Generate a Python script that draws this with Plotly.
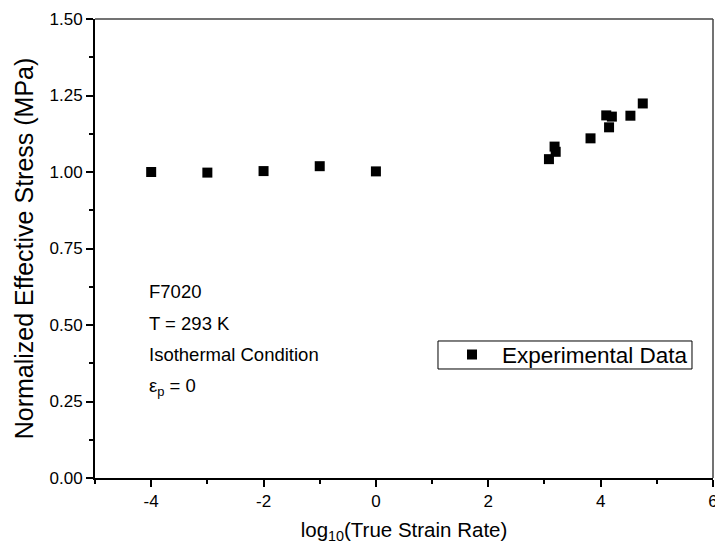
#### scatter of normalized effective stress vs log10 strain rate

import plotly.graph_objects as go

log_rate = [-4, -3, -2, -1, 0,
            3.08, 3.18, 3.20, 3.82, 4.10, 4.20, 4.15, 4.53, 4.75]
norm_stress = [1.000, 0.998, 1.003, 1.019, 1.002,
               1.042, 1.083, 1.066, 1.110, 1.185, 1.181, 1.146, 1.184, 1.224]

x_ticks = [-4, -2, 0, 2, 4, 6]
y_ticks = [0.00, 0.25, 0.50, 0.75, 1.00, 1.25, 1.50]

info_lines = ["F7020", "T = 293 K", "Isothermal Condition", "ε<sub>p</sub> = 0"]

font_family = "Liberation Sans, Arial, sans-serif"

fig = go.Figure()

fig.add_trace(go.Scatter(
    x=log_rate,
    y=norm_stress,
    mode='markers',
    name='Experimental Data',
    marker=dict(symbol='square', size=10, color='black'),
))

# Text block in the lower left
for i, line in enumerate(info_lines):
    fig.add_annotation(
        x=0.084, y=0.407 - i * 0.0695, xref='paper', yref='paper',
        xanchor='left', yanchor='middle', showarrow=False,
        text=line, font=dict(size=18.5, color='black', family=font_family),
    )

# Legend frame, top and right box lines
fig.add_shape(type='rect', xref='paper', yref='paper',
              x0=0.555, x1=0.966, y0=0.2375, y1=0.2985,
              line=dict(color='black', width=1))
fig.add_shape(type='line', xref='paper', yref='paper', x0=0, x1=1, y0=1, y1=1,
              line=dict(color='#444', width=1.5))
fig.add_shape(type='line', xref='paper', yref='paper', x0=1, x1=1, y0=0, y1=1,
              line=dict(color='#444', width=1.5))

fig.update_layout(
    width=715, height=548,
    margin=dict(l=95, r=2, t=19, b=70),
    plot_bgcolor='white', paper_bgcolor='white',
    font=dict(family=font_family, color='black', size=16),
    showlegend=True,
    legend=dict(x=0.5615, y=0.268, xanchor='left', yanchor='middle',
                bgcolor='rgba(0,0,0,0)', borderwidth=0,
                font=dict(size=22.5), itemwidth=50),
)

fig.update_xaxes(
    range=[-5, 6], tickvals=x_ticks, ticktext=[str(v) for v in x_ticks],
    ticks='outside', ticklen=7, tickwidth=1.5, tickcolor='black',
    minor=dict(dtick=1, tick0=-5, ticks='outside', ticklen=4, tickwidth=1.5, tickcolor='black'),
    showline=True, linecolor='black', linewidth=2,
    showgrid=False, zeroline=False, automargin=False,
    ticklabeloverflow='allow',
    tickfont=dict(size=17),
    title=dict(text='log<sub>10</sub>(True Strain Rate)', font=dict(size=20.5), standoff=12),
)

fig.update_yaxes(
    range=[0, 1.5], tickvals=y_ticks, ticktext=[f"{v:.2f}" for v in y_ticks],
    ticks='outside', ticklen=7, tickwidth=1.5, tickcolor='black',
    minor=dict(dtick=0.125, tick0=0, ticks='outside', ticklen=4, tickwidth=1.5, tickcolor='black'),
    showline=True, linecolor='black', linewidth=2,
    showgrid=False, zeroline=False, automargin=False,
    tickfont=dict(size=17),
    title=dict(text='Normalized Effective Stress (MPa)', font=dict(size=25), standoff=9),
)

# drop the browser's default body margin so the figure sits at the page corner
fig.write_html("out.html", config={'displayModeBar': False},
               post_script="document.body.style.margin='0';")
